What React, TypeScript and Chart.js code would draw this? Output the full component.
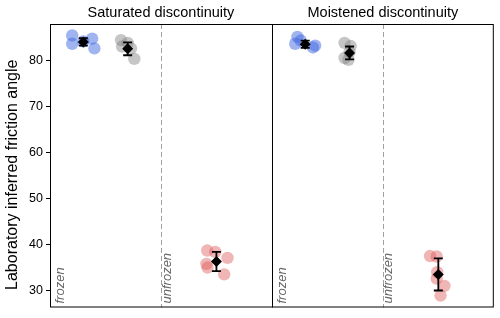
import React, { useEffect, useRef } from 'react';
import { Chart, registerables } from 'chart.js';

Chart.register(...registerables);

// ---------- data ----------
const panelTitles = ['Saturated discontinuity', 'Moistened discontinuity'];
const categoryLabels = ['frozen', 'unfrozen'];
const yTickValues = [30, 40, 50, 60, 70, 80];
const yAxisTitle = 'Laboratory inferred friction angle';

// group centre positions within a panel (category units: frozen = 0, unfrozen = 1)
const blueGroupPos = -0.2;
const grayGroupPos = 0.2;
const redGroupPos = 1.0;

// individual samples (values) and their horizontal jitter (category units)
const satBlue = [85.5, 84.8, 84.2, 83.7, 82.7];
const satBlueJitter = [-0.1, 0.08, 0.0, -0.1, 0.1];
const satGray = [84.5, 83.9, 83.1, 82.7, 80.4];
const satGrayJitter = [-0.06, 0.0, -0.05, 0.03, 0.06];
const satRed = [38.7, 38.4, 37.1, 35.8, 35.0, 33.5];
const satRedJitter = [-0.083, -0.01, 0.1, -0.09, -0.08, 0.07];

const moistBlue = [85.2, 84.4, 83.7, 83.3, 82.9];
const moistBlueJitter = [-0.07, -0.04, -0.09, 0.09, 0.07];
const moistGray = [83.9, 83.2, 81.9, 80.6, 80.2];
const moistGrayJitter = [-0.045, 0.01, 0.0, -0.045, -0.01];
const moistRed = [37.5, 37.4, 34.0, 32.6, 31.0, 28.9];
const moistRedJitter = [-0.075, -0.015, -0.01, -0.015, 0.055, 0.02];

// means and error bars: [sat blue, sat gray, sat red, moist blue, moist gray, moist red]
const meanValues = [84.1, 82.6, 36.3, 83.6, 81.7, 33.5];
const meanErrors = [0.8, 1.4, 2.1, 0.8, 1.4, 3.5];
const meanPanels = [0, 0, 0, 1, 1, 1];
const meanGroupPos = [blueGroupPos, grayGroupPos, redGroupPos, blueGroupPos, grayGroupPos, redGroupPos];

const Y_MIN = 26.3;
const Y_MAX = 88.0;

// ---------- helpers ----------
const FONT = "'Liberation Sans', Arial, sans-serif";

function pts(panel: number, group: number, values: number[], jitter: number[]) {
  return values.map((v, i) => ({ x: panel * 2 + group + jitter[i], y: v }));
}

const BLUE = 'rgba(65,105,225,0.5)';
const GRAY = 'rgba(128,128,128,0.45)';
const RED = 'rgba(220,80,80,0.42)';

const panelPlugin = {
  id: 'panelPlugin',
  beforeDatasetsDraw(chart: any) {
    const { ctx, chartArea, scales } = chart;
    const xs = scales.x;
    ctx.save();
    ctx.strokeStyle = '#a0a0a0';
    ctx.lineWidth = 1;
    ctx.setLineDash([5, 3]);
    for (let p = 0; p < panelTitles.length; p++) {
      const x = Math.round(xs.getPixelForValue(p * 2 + 0.5)) + 0.5;
      ctx.beginPath();
      ctx.moveTo(x, chartArea.top);
      ctx.lineTo(x, chartArea.bottom);
      ctx.stroke();
    }
    ctx.setLineDash([]);
    ctx.fillStyle = '#666';
    ctx.font = `italic 13px ${FONT}`;
    ctx.textAlign = 'left';
    ctx.textBaseline = 'middle';
    for (let p = 0; p < panelTitles.length; p++) {
      categoryLabels.forEach((lab, c) => {
        const x = xs.getPixelForValue(p * 2 + c - 0.5) + (c === 0 ? 10 : 6);
        ctx.save();
        ctx.translate(x, chartArea.bottom - 4);
        ctx.rotate(-Math.PI / 2);
        ctx.fillText(lab, 0, 0);
        ctx.restore();
      });
    }
    ctx.restore();
  },
  afterDatasetDraw(chart: any, args: any) {
    if (args.index !== 1) return;
    const { ctx, scales } = chart;
    const xs = scales.x;
    const ys = scales.y;
    ctx.save();
    ctx.strokeStyle = '#000';
    ctx.lineWidth = 1.8;
    meanValues.forEach((m, i) => {
      const x = xs.getPixelForValue(meanPanels[i] * 2 + meanGroupPos[i]);
      const y1 = ys.getPixelForValue(m + meanErrors[i]);
      const y2 = ys.getPixelForValue(m - meanErrors[i]);
      ctx.beginPath();
      ctx.moveTo(x, y1);
      ctx.lineTo(x, y2);
      ctx.moveTo(x - 4.5, y1);
      ctx.lineTo(x + 4.5, y1);
      ctx.moveTo(x - 4.5, y2);
      ctx.lineTo(x + 4.5, y2);
      ctx.stroke();
    });
    ctx.restore();
  },
  afterDraw(chart: any) {
    const { ctx, chartArea, scales } = chart;
    const xs = scales.x;
    ctx.save();
    ctx.strokeStyle = '#000';
    ctx.lineWidth = 1;
    ctx.strokeRect(chartArea.left + 0.5, chartArea.top + 0.5, chartArea.right - chartArea.left - 1, chartArea.bottom - chartArea.top - 1);
    const xm = Math.round(xs.getPixelForValue(1.5)) + 0.5;
    ctx.beginPath();
    ctx.moveTo(xm, chartArea.top);
    ctx.lineTo(xm, chartArea.bottom);
    ctx.stroke();
    ctx.fillStyle = '#000';
    ctx.font = `14.5px ${FONT}`;
    ctx.textAlign = 'center';
    ctx.textBaseline = 'alphabetic';
    panelTitles.forEach((t, p) => {
      ctx.fillText(t, xs.getPixelForValue(p * 2 + 0.5), chartArea.top - 7);
    });
    // y-axis title
    ctx.font = `16px ${FONT}`;
    ctx.textBaseline = 'middle';
    ctx.translate(13, (chartArea.top + chartArea.bottom) / 2 + 9);
    ctx.rotate(-Math.PI / 2);
    ctx.fillText(yAxisTitle, 0, 0);
    ctx.restore();
  },
};

export default function App() {
  const ref = useRef<HTMLCanvasElement | null>(null);
  useEffect(() => {
    if (!ref.current) return;
    const chart = new Chart(ref.current, {
      type: 'scatter',
      data: {
        datasets: [
          {
            label: 'mean',
            data: meanValues.map((m, i) => ({ x: meanPanels[i] * 2 + meanGroupPos[i], y: m })),
            pointStyle: 'rectRot',
            pointRadius: 5.5,
            backgroundColor: '#000',
            borderColor: '#000',
            borderWidth: 0,
          },
          {
            label: 'red',
            data: [...pts(0, redGroupPos, satRed, satRedJitter), ...pts(1, redGroupPos, moistRed, moistRedJitter)],
            pointRadius: 6.2,
            backgroundColor: RED,
            borderWidth: 0,
          },
          {
            label: 'gray',
            data: [...pts(0, grayGroupPos, satGray, satGrayJitter), ...pts(1, grayGroupPos, moistGray, moistGrayJitter)],
            pointRadius: 6.2,
            backgroundColor: GRAY,
            borderWidth: 0,
          },
          {
            label: 'blue',
            data: [...pts(0, blueGroupPos, satBlue, satBlueJitter), ...pts(1, blueGroupPos, moistBlue, moistBlueJitter)],
            pointRadius: 6.2,
            backgroundColor: BLUE,
            borderWidth: 0,
          },
        ],
      },
      options: {
        animation: false,
        responsive: false,
        devicePixelRatio: 1,
        layout: { padding: { left: 0, top: 24, right: 3, bottom: 8 } },
        plugins: { legend: { display: false }, tooltip: { enabled: false } },
        scales: {
          x: { type: 'linear', min: -0.5, max: 3.5, display: false },
          y: {
            type: 'linear',
            min: Y_MIN,
            max: Y_MAX,
            afterBuildTicks: (s: any) => {
              s.ticks = yTickValues.map((v) => ({ value: v }));
            },
            afterFit: (s: any) => {
              s.width = 50;
            },
            ticks: { color: '#000', font: { family: FONT, size: 12.5 }, padding: 3 },
            grid: { drawOnChartArea: false, drawTicks: true, tickLength: 4, tickColor: '#000', tickWidth: 1 },
            border: { display: false },
            title: { display: false },
          },
        },
      },
      plugins: [panelPlugin],
    } as any);
    return () => chart.destroy();
  }, []);
  return (
    <div style={{ position: 'absolute', left: 0, top: 0, width: 500, height: 318 }}>
      <canvas ref={ref} width={500} height={318} />
    </div>
  );
}
